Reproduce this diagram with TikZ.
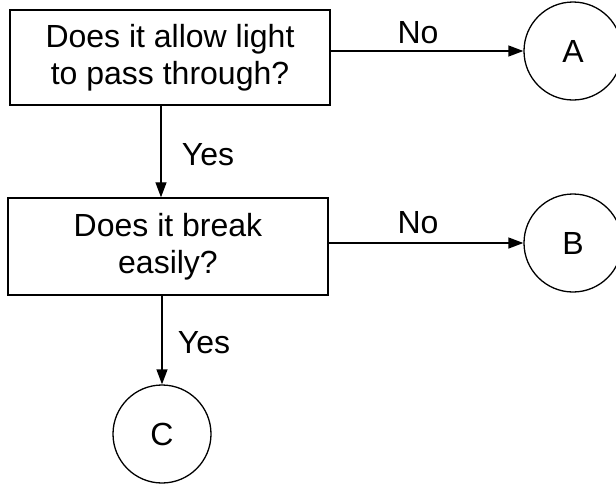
\documentclass[tikz,border=0pt]{standalone}
\usepackage{fontspec}
\setmainfont{Liberation Sans}
\usetikzlibrary{arrows.meta}
\begin{document}
\begin{tikzpicture}[x=1pt,y=-1pt,
  qbox/.style={draw, line width=1.4pt, minimum width=320pt, inner sep=0pt, align=center,
    font=\fontsize{32}{37}\selectfont},
  endc/.style={draw, circle, line width=1.3pt, minimum size=98pt, inner sep=0pt,
    font=\fontsize{32}{37}\selectfont},
  arr/.style={line width=1.3pt, -{Triangle[length=15pt,width=11pt]}},
  lbl/.style={font=\fontsize{32}{37}\selectfont, inner sep=0pt}]
\useasboundingbox (0,0) rectangle (616,483);
\node[qbox, minimum height=95pt] (q1) at (170,57.5) {Does it allow light\\to pass through?};
\node[qbox, minimum height=97pt] (q2) at (168,246.5) {Does it break\\easily?};
\node[endc] (A) at (573,51) {A};
\node[endc] (B) at (573,243) {B};
\node[endc] (C) at (162,434) {C};
\coordinate (d1) at (161,0);
\draw[arr] (q1.east |- A.center) -- (A.west);
\draw[arr] (q2.east |- B.center) -- (B.west);
\draw[arr] (q1.south -| d1) -- (q2.north -| d1);
\draw[arr] (q2.south -| C.center) -- (C.north);
\node[lbl] (no1) at (418,33) {No};
\node[lbl] (no2) at (418,223) {No};
\node[lbl] (yes1) at (208,155) {Yes};
\node[lbl] (yes2) at (204,343) {Yes};
\end{tikzpicture}
\end{document}
